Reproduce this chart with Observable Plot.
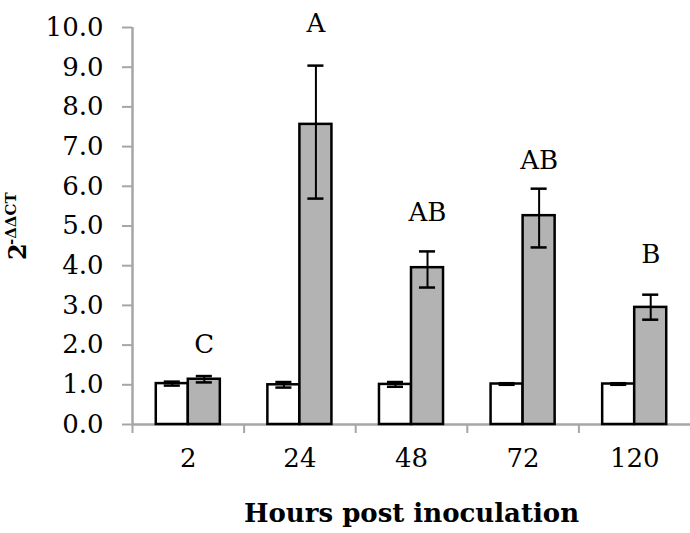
<!DOCTYPE html>
<html>
<head>
<meta charset="utf-8">
<script src="https://cdn.jsdelivr.net/npm/d3@7"></script>
<script src="https://cdn.jsdelivr.net/npm/@observablehq/plot@0.6"></script>
<style>
  html, body { margin: 0; padding: 0; background: white; }
  #chart svg { display: block; }
</style>
</head>
<body>
<div id="chart"></div>
<script>
// ---- data ----
const hours = ["2", "24", "48", "72", "120"];
const control = [1.03, 1.00, 1.01, 1.02, 1.02];
const controlErr = [0.05, 0.07, 0.06, 0.02, 0.02];
const treated = [1.14, 7.56, 3.95, 5.26, 2.95];
const treatedLo = [1.06, 5.69, 3.45, 4.46, 2.64];
const treatedHi = [1.22, 9.04, 4.36, 5.94, 3.27];
const letters = ["C", "A", "AB", "AB", "B"];
const letterY = [2.0, 10.1, 5.34, 6.65, 4.28];
const yTicks = [0, 1, 2, 3, 4, 5, 6, 7, 8, 9, 10];

// ---- layout constants ----
const BW = 0.287;   // bar width in group units
const CAP = 0.072;  // half cap width in group units
const FONT = "DejaVu Serif";
const AXIS = "#a6a6a6";

const rows = hours.map((h, i) => ({
  i, h,
  c: control[i], cLo: control[i] - controlErr[i], cHi: control[i] + controlErr[i],
  t: treated[i], tLo: treatedLo[i], tHi: treatedHi[i],
  letter: letters[i], ly: letterY[i]
}));
const cx = d => d.i + 0.5 - BW / 2;
const tx = d => d.i + 0.5 + BW / 2;

const chart = Plot.plot({
  width: 690,
  height: 533,
  marginLeft: 132,
  marginRight: 0,
  marginTop: 27,
  marginBottom: 109,
  style: {fontFamily: FONT, background: "white", color: "black"},
  x: {type: "linear", domain: [0, hours.length], axis: null},
  y: {domain: [0, 10], axis: null},
  marks: [
    // axes lines
    Plot.ruleY([0], {stroke: AXIS, strokeWidth: 2.5}),
    Plot.ruleX([0], {y1: 0, y2: 10, stroke: AXIS, strokeWidth: 2.5}),
    Plot.axisY({
      ticks: yTicks, tickFormat: d3.format(".1f"), tickSize: 10, tickPadding: 19,
      fontSize: 26, stroke: AXIS, strokeWidth: 2, fill: "black", fontFamily: FONT, label: null
    }),
    Plot.axisX({
      ticks: d3.range(0, hours.length), tickFormat: () => "", tickSize: 9,
      stroke: AXIS, strokeWidth: 2, label: null
    }),
    Plot.axisX({
      ticks: hours.map((h, i) => i + 0.5), tickFormat: v => hours[Math.round(v - 0.5)],
      tickSize: 0, tickPadding: 24, fontSize: 26, fill: "black", fontFamily: FONT, label: null
    }),
    // bars
    Plot.rectY(rows, {x1: d => d.i + 0.5 - BW, x2: d => d.i + 0.5, y: "c",
      fill: "white", stroke: "black", strokeWidth: 2.5}),
    Plot.rectY(rows, {x1: d => d.i + 0.5, x2: d => d.i + 0.5 + BW, y: "t",
      fill: "#b3b3b3", stroke: "black", strokeWidth: 2.5}),
    // error bars
    Plot.ruleX(rows, {x: cx, y1: "cLo", y2: "cHi", stroke: "black", strokeWidth: 2}),
    Plot.ruleY(rows, {y: "cLo", x1: d => cx(d) - CAP, x2: d => cx(d) + CAP, stroke: "black", strokeWidth: 2.5}),
    Plot.ruleY(rows, {y: "cHi", x1: d => cx(d) - CAP, x2: d => cx(d) + CAP, stroke: "black", strokeWidth: 2.5}),
    Plot.ruleX(rows, {x: tx, y1: "tLo", y2: "tHi", stroke: "black", strokeWidth: 2}),
    Plot.ruleY(rows, {y: "tLo", x1: d => tx(d) - CAP, x2: d => tx(d) + CAP, stroke: "black", strokeWidth: 2.5}),
    Plot.ruleY(rows, {y: "tHi", x1: d => tx(d) - CAP, x2: d => tx(d) + CAP, stroke: "black", strokeWidth: 2.5}),
    // significance letters
    Plot.text(rows, {x: tx, y: "ly", text: "letter", fontSize: 26, fill: "black", fontFamily: FONT}),
    // axis titles
    Plot.text(["Hours post inoculation"], {frameAnchor: "bottom", dy: 97, fontSize: 26,
      fontWeight: "bold", fill: "black", fontFamily: FONT}),
    Plot.text(["2"], {frameAnchor: "left", rotate: -90, dx: -114, dy: 34, fontSize: 24,
      fontWeight: "bold", fill: "black", fontFamily: FONT}),
    Plot.text(["-ΔΔCT"], {frameAnchor: "left", rotate: -90, dx: -121, dy: 19, fontSize: 15,
      fontWeight: "bold", fill: "black", fontFamily: FONT})
  ]
});
document.getElementById("chart").append(chart);
</script>
</body>
</html>
